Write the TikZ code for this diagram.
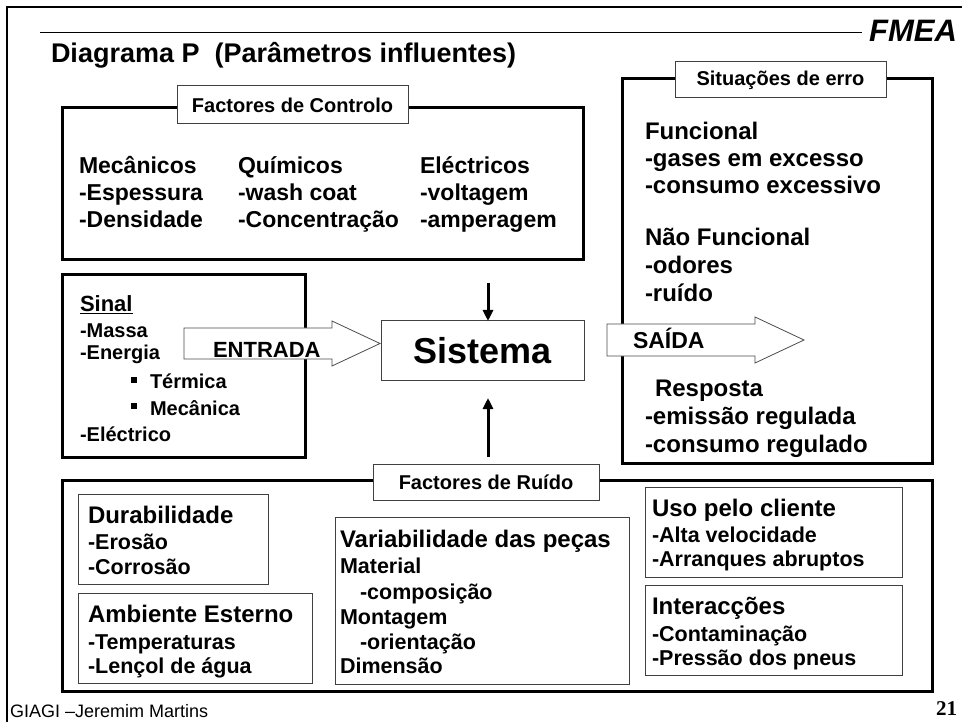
\documentclass[tikz,border=0pt]{standalone}
\usepackage{fontspec}
\setmainfont{Liberation Sans}
\newfontfamily\serifbold{Liberation Serif}
\usetikzlibrary{arrows.meta}
\tikzset{
  every node/.style={inner sep=0pt, outer sep=0pt},
  thk/.style={draw=black, line width=3pt},
  thn/.style={draw=black!75, line width=1pt},
  lbl/.style={thn, fill=white, font=\fontsize{20}{24}\selectfont\bfseries},
  tx/.style={anchor=base west, font=\fontsize{#1}{#1}\selectfont\bfseries},
  barrow/.style={draw=black!70, line width=0.8pt, fill=white},
  varrow/.style={line width=3pt, -{Triangle[width=10pt,length=11pt]}},
}
\begin{document}
\begin{tikzpicture}[x=1pt,y=-1pt]
\useasboundingbox (0,0) rectangle (962,722);
\fill[white] (0,0) rectangle (962,722);
% outer frame
\draw[line width=2.5pt] (7,730) -- (7,7) -- (970,7);
% header
\draw[line width=1pt] (40,33) -- (862,33);
\node[anchor=base east, font=\fontsize{31}{31}\selectfont\bfseries\itshape] (fmea) at (957,42) {FMEA};
\node[tx=27] (title) at (51,63) {Diagrama P\ \ (Parâmetros influentes)};

% thick boxes
\draw[thk] (62,108) rectangle (583,260);
\draw[thk] (622,79) rectangle (932,463);
\draw[thk] (62,275) rectangle (305,457);
\draw[thk] (62,480) rectangle (932,691);

% labels
\node[lbl, minimum width=231pt, minimum height=38pt] (lfc) at (292.5,105) {Factores de Controlo};
\node[lbl, minimum width=211pt, minimum height=36pt] (lse) at (780.5,80) {Situações de erro};
\node[lbl, minimum width=226pt, minimum height=36pt] (lfr) at (486,482) {Factores de Ruído};

% Factores de Controlo contents
\node[tx=23] (c11) at (79,174) {Mecânicos};
\node[tx=23] (c12) at (79,201) {-Espessura};
\node[tx=23] (c13) at (79,228) {-Densidade};
\node[tx=23] (c21) at (238,174) {Químicos};
\node[tx=23] (c22) at (238,201) {-wash coat};
\node[tx=23] (c23) at (238,228) {-Concentração};
\node[tx=23] (c31) at (420,174) {Eléctricos};
\node[tx=23] (c32) at (420,201) {-voltagem};
\node[tx=23] (c33) at (420,228) {-amperagem};

% Situacoes de erro contents
\node[tx=24] (s1) at (645,139.6) {Funcional};
\node[tx=24] (s2) at (645,166.6) {-gases em excesso};
\node[tx=24] (s3) at (645,193.6) {-consumo excessivo};
\node[tx=24] (s4) at (645,245.6) {Não Funcional};
\node[tx=24] (s5) at (645,273.6) {-odores};
\node[tx=24] (s6) at (645,301.6) {-ruído};
\node[tx=24] (s7) at (655,396.6) {Resposta};
\node[tx=24] (s8) at (645,424.6) {-emissão regulada};
\node[tx=24] (s9) at (645,452.6) {-consumo regulado};

% Sinal contents
\node[tx=22] (g1) at (80,311.7) {\underline{Sinal}};
\node[tx=20] (g2) at (80,337.7) {-Massa};
\node[tx=20] (g3) at (80,359.3) {-Energia};
\fill (131,377) rectangle (137,383);
\node[tx=20] (g4) at (150,388.3) {Térmica};
\fill (131,403) rectangle (137,409);
\node[tx=20] (g5) at (150,415) {Mecânica};
\node[tx=20] (g6) at (80,441.7) {-Eléctrico};

% block arrows
\draw[barrow] (184,328) -- (332,328) -- (332,321) -- (380,343.5) -- (332,366) -- (332,359) -- (184,359) -- cycle;
\node[tx=22] (entrada) at (213,357) {ENTRADA};
\draw[barrow] (607,324) -- (755,324) -- (755,317) -- (804,340) -- (755,363) -- (755,356) -- (607,356) -- cycle;
\node[tx=23] (saida) at (633,348.3) {SAÍDA};

% Sistema
\node[draw=black!75, line width=1pt, fill=white, minimum width=203pt, minimum height=59pt,
      font=\fontsize{36}{36}\selectfont\bfseries] (sys) at (482.5,350.5) {Sistema};
\coordinate (dtop) at (488,283);
\draw[varrow] (dtop) -- (dtop |- sys.north);
\coordinate (ubot) at (488,457);
\draw[varrow, shorten >=18pt] (ubot) -- (ubot |- sys.south);

% noise inner boxes
\draw[thn] (78,494) rectangle (268,584);
\draw[thn] (78,593) rectangle (312,683);
\draw[thn] (335,517) rectangle (629,684);
\draw[thn] (645,487) rectangle (902,577);
\draw[thn] (645,585) rectangle (902,675);

\node[tx=24] (d1) at (88,523) {Durabilidade};
\node[tx=21.5] (d2) at (88,549) {-Erosão};
\node[tx=21.5] (d3) at (88,574) {-Corrosão};
\node[tx=24] (a1) at (88,622) {Ambiente Esterno};
\node[tx=21.5] (a2) at (88,649) {-Temperaturas};
\node[tx=21.5] (a3) at (88,673) {-Lençol de água};
\node[tx=24] (v1) at (340,547) {Variabilidade das peças};
\node[tx=21.5] (v2) at (340,573) {Material};
\node[tx=21.5] (v3) at (360,599) {-composição};
\node[tx=21.5] (v4) at (340,624) {Montagem};
\node[tx=21.5] (v5) at (360,649) {-orientação};
\node[tx=21.5] (v6) at (340,673) {Dimensão};
\node[tx=24] (u1) at (652,516) {Uso pelo cliente};
\node[tx=21.5] (u2) at (652,542.7) {-Alta velocidade};
\node[tx=21.5] (u3) at (652,566.7) {-Arranques abruptos};
\node[tx=24] (i1) at (652,614) {Interacções};
\node[tx=21.5] (i2) at (652,641) {-Contaminação};
\node[tx=21.5] (i3) at (652,665) {-Pressão dos pneus};

% footer
\node[anchor=base west, font=\fontsize{18}{18}\selectfont] (foot) at (10,717) {GIAGI –Jeremim Martins};
\node[anchor=base east, font=\fontsize{21}{21}\selectfont\serifbold\bfseries] (pg) at (957,715) {21};
\end{tikzpicture}
\end{document}
